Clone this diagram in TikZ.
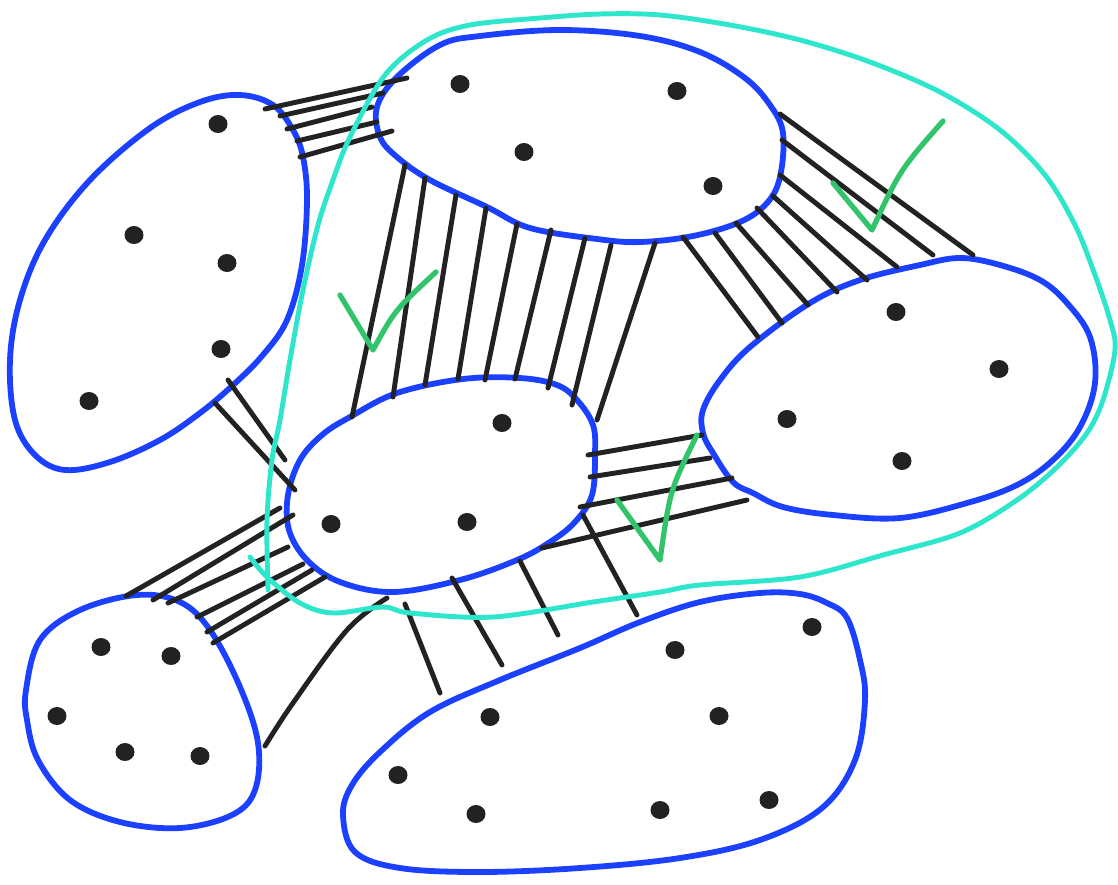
\documentclass[tikz,border=0pt]{standalone}
\usetikzlibrary{arrows.meta}
\definecolor{blobblue}{RGB}{28,64,255}
\definecolor{loopcyan}{RGB}{46,230,204}
\definecolor{tickgreen}{RGB}{50,196,106}
\definecolor{ink}{RGB}{34,34,34}
\begin{document}
\begin{tikzpicture}[
  x=0.2mm,y=-0.2mm,
  blob/.style={draw=blobblue,line width=3.3pt,line join=round},
  link/.style={draw=ink,line width=2.8pt,line cap=round},
  loopline/.style={draw=loopcyan,line width=2.8pt,line cap=round,line join=round},
  tick/.style={draw=tickgreen,line width=3pt,line cap=round,line join=round},
  pt/.style={fill=ink}
]
\useasboundingbox (0,0) rectangle (1118,884);
% Blobs (hand-drawn clusters)
\draw[blob] plot[smooth cycle,tension=0.6] coordinates {(440,45) (480,36) (560,30) (640,36) (700,52) (745,78) (770,105) (783,133) (780,177) (767,203) (740,222) (693,236) (640,242) (597,239) (530,228) (487,207) (430,180) (397,157) (380,137) (377,107) (397,77)};
\draw[blob] plot[smooth cycle,tension=0.6] coordinates {(240,95) (273,105) (293,130) (303,157) (307,200) (302,265) (287,320) (262,356) (232,386) (200,413) (160,440) (110,462) (65,470) (35,455) (15,420) (10,360) (20,300) (45,240) (90,180) (150,128) (200,102)};
\draw[blob] plot[smooth cycle,tension=0.6] coordinates {(300,460) (322,435) (350,417) (397,393) (463,379) (520,378) (557,385) (577,400) (593,425) (595,455) (592,495) (575,522) (550,542) (517,560) (460,580) (393,592) (340,582) (307,560) (289,530) (288,495)};
\draw[blob] plot[smooth cycle,tension=0.6] coordinates {(703,410) (720,380) (750,347) (810,303) (860,280) (920,265) (960,258) (1000,265) (1040,280) (1067,303) (1090,337) (1095,383) (1080,427) (1053,460) (1017,485) (967,503) (900,518) (833,515) (783,507) (753,493) (733,482) (713,453) (703,433)};
\draw[blob] plot[smooth cycle,tension=0.6] coordinates {(26,690) (40,640) (80,610) (137,595) (180,602) (210,630) (240,687) (258,743) (255,790) (232,815) (180,828) (120,822) (70,800) (38,760) (27,720)};
\draw[blob] plot[smooth cycle,tension=0.6] coordinates {(640,622) (700,602) (760,593) (800,594) (827,603) (847,618) (860,660) (865,700) (855,760) (822,808) (760,840) (680,858) (580,868) (480,872) (400,868) (355,852) (343,815) (352,785) (380,752) (430,712) (500,680) (580,648)};

% Link bundles between clusters
\foreach \xa/\ya/\xb/\yb in {265/109/407/78, 280/116/383/93, 287/129/372/107, 297/141/377/122, 300/157/392/131,
  405/165/352/417, 425/178/393/397, 456/195/425/385, 486/208/458/379, 517/224/485/380,
  551/230/515/379, 585/238/548/388, 611/245/572/405, 655/243/597/420,
  780/114/973/255, 782/140/933/255, 780/175/897/267, 773/196/867/280,
  757/208/837/292, 736/223/808/305, 715/233/782/323, 683/237/758/337,
  228/380/285/460, 215/403/295/490,
  588/455/702/435, 590/477/710/458, 580/507/732/478, 542/548/747/500,
  126/596/280/508, 153/600/293/515, 168/603/288/547, 197/617/303/564, 207/632/312/570, 213/643/325/577,
  405/604/440/693, 452/578/502/665, 520/561/558/635, 583/515/637/615}
  \draw[link] (\xa,\ya) -- (\xb,\yb);
\draw[link] plot[smooth,tension=0.6] coordinates {(387,598) (347,630) (293,703) (265,746)};

% Members
\foreach \px/\py in {460/84, 677/91, 524/152, 713/186,
  218/124, 134/235, 227/263, 221/349, 89/401,
  502/423, 331/524, 467/522,
  896/312, 999/369, 787/419, 902/461,
  101/647, 171/656, 57/716, 125/752, 200/756,
  675/650, 812/627, 490/717, 719/716, 398/775, 476/814, 660/810, 769/800}
  \fill[pt] (\px,\py) ellipse [x radius=1.9mm,y radius=1.8mm];

% Enclosing loop
\draw[loopline] plot[smooth,tension=0.55] coordinates {(268,590) (267,520) (272,460) (280,420) (290,360) (303,290) (318,225) (333,180) (350,137) (385,75) (427,40) (470,25) (540,18) (600,14) (660,15) (730,25) (800,40) (870,62) (940,92) (1000,130) (1045,175) (1075,225) (1095,275) (1110,320) (1115,350) (1103,400) (1087,433) (1057,467) (1017,500) (960,533) (883,555) (800,577) (700,585) (660,592) (593,602) (493,617) (410,613) (383,607) (333,613) (300,603) (267,577) (250,557)};

% Check marks
\draw[tick] (340,295) -- (373,350) .. controls (395,310) .. (436,272);
\draw[tick] (833,183) -- (872,230) .. controls (900,170) .. (943,121);
\draw[tick] (617,500) -- (660,560) .. controls (670,490) .. (697,435);
\end{tikzpicture}
\end{document}
